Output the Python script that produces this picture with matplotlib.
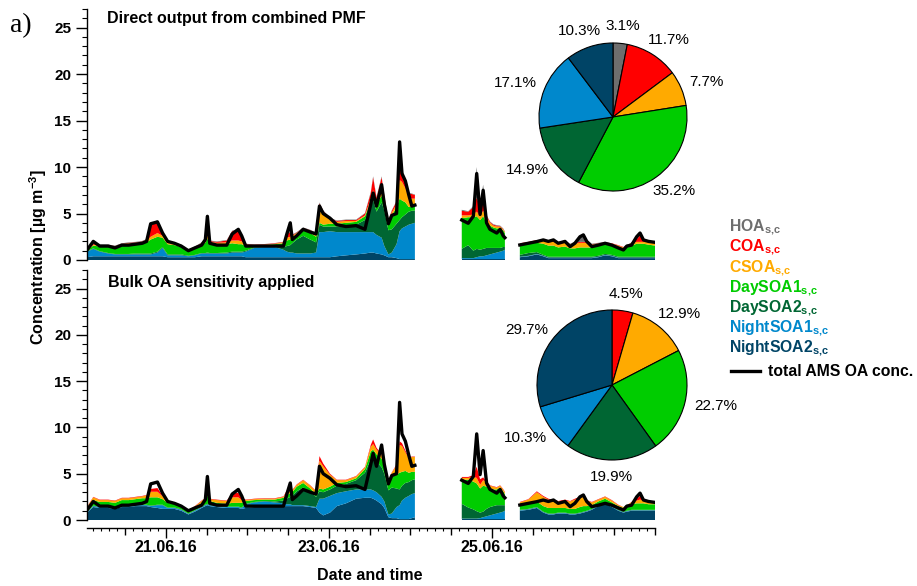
import matplotlib
matplotlib.use("Agg")
import matplotlib.pyplot as plt
import matplotlib.dates as mdates
from matplotlib.lines import Line2D
from matplotlib.ticker import MultipleLocator, FixedLocator, FuncFormatter
from datetime import datetime
import numpy as np

plt.rcParams['font.family'] = ['Liberation Sans', 'DejaVu Sans']
plt.rcParams['font.weight'] = 'bold'
plt.rcParams['mathtext.fontset'] = 'custom'
plt.rcParams['mathtext.rm'] = 'Liberation Sans:bold'
plt.rcParams['mathtext.it'] = 'Liberation Sans:bold'
plt.rcParams['mathtext.bf'] = 'Liberation Sans:bold'

# time axis: hours since 20.06.16 00:00 (three measurement periods)
hours = [0.8, 2.6, 4.5, 7, 9, 11, 13, 15, 17, 18.3,
         19.5, 21.5, 23, 24.5, 26.5, 28.5, 30.6, 32.5, 34.5, 35.6,
         36.2, 36.9, 39, 41.9, 43.5, 45.3, 46.3, 47.5, 50, 53,
         56, 58.6, 59.6, 60.6, 61.2, 62.5, 64.4, 66.5, 68.2, 69.2,
         70.3, 72.3, 74.3, 77, 80, 82.6, 84.3, 85, 86, 87.5,
         88.3, 89.5, 90.5, 91.9, 92.8, 93.5, 94.5, 95.5, 96.4, 97.3,
         111.1, 113.0, 114.5, 115.5, 116.5, 117.4, 118.4, 119.4, 120.4, 121.4,
         122.4, 123.3, 123.8,
         128.2, 130.7, 133.2, 135.1, 136.6, 138.1, 139.5, 141.5, 143.0, 144.4,
         145.9, 146.9, 147.9, 149.4, 151.3, 153.3, 155.3, 157.2, 158.7, 159.7,
         161.1, 162.6, 163.6, 164.6, 166.1, 168.0]

total_oa = [1.1, 2.0, 1.5, 1.5, 1.3, 1.6, 1.6, 1.7, 1.8, 2.0,
            3.9, 4.1, 2.9, 2.0, 1.8, 1.5, 1.0, 1.3, 1.6, 2.2,
            4.7, 1.8, 1.6, 1.6, 2.8, 3.3, 2.6, 1.5, 1.5, 1.5,
            1.5, 1.5, 2.8, 4.0, 2.2, 2.6, 3.3, 3.0, 2.8, 5.8,
            5.0, 4.5, 3.8, 3.6, 3.7, 3.3, 6.0, 7.2, 5.8, 8.1,
            6.0, 3.9, 4.8, 5.0, 12.7, 9.3, 8.5, 7.0, 5.8, 5.9,
            4.3, 3.95, 4.7, 9.3, 4.9, 7.5, 4.0, 3.3, 3.1, 2.9,
            3.3, 2.6, 2.4,
            1.62, 1.8, 1.98, 2.16, 2.0, 2.16, 1.8, 2.0, 1.44, 1.8,
            2.5, 2.7, 2.0, 1.44, 1.6, 1.8, 1.6, 1.3, 1.08, 1.5,
            1.6, 2.5, 2.9, 2.16, 2.0, 1.9]

factor_names = ['HOA', 'COA', 'CSOA', 'DaySOA1', 'DaySOA2', 'NightSOA1', 'NightSOA2']
factor_colors = ['#6e6e6e', '#ff0000', '#ffaa00', '#00cc00', '#006633', '#0088cc', '#004466']

# direct output from combined PMF
pmf_hoa = [0.02, 0.05, 0.05, 0.05, 0.05, 0.05, 0.05, 0.05, 0.05, 0.05,
           0.1, 0.1, 0.05, 0.05, 0.05, 0.05, 0.02, 0.05, 0.05, 0.05,
           0.2, 0.05, 0.05, 0.05, 0.05, 0.05, 0.05, 0.05, 0.02, 0.02,
           0.02, 0.02, 0.05, 0.1, 0.05, 0.05, 0.05, 0.05, 0.05, 0.1,
           0.05, 0.05, 0.05, 0.05, 0.05, 0.05, 0.1, 0.1, 0.1, 0.1,
           0.05, 0.05, 0.05, 0.05, 0.6, 0.5, 0.3, 0.1, 0.05, 0.05,
           0.1, 0.05, 0.1, 3.3, 0.3, 1.0, 0.05, 0.05, 0.05, 0.05,
           0.05, 0.05, 0.02,
           0, 0, 0, 0.05, 0.05, 0.1, 0.05, 0.05, 0.05, 0.1,
           0.6, 0.8, 0.2, 0.05, 0.05, 0.05, 0, 0, 0, 0,
           0.05, 0.1, 0.2, 0.05, 0, 0]
pmf_coa = [0.05, 0.1, 0.05, 0.05, 0.05, 0.05, 0.05, 0.05, 0.05, 0.1,
           1.2, 1.3, 0.4, 0.1, 0.05, 0.05, 0.05, 0.05, 0.05, 0.1,
           0.3, 0.1, 0.1, 0.2, 1.0, 1.2, 0.6, 0.1, 0.05, 0.05,
           0.05, 0.05, 0.4, 0.5, 0.1, 0.05, 0.05, 0.1, 0.1, 0.6,
           0.3, 0.1, 0.1, 0.1, 0.1, 0.2, 0.6, 1.4, 0.4, 1.5,
           0.5, 0.1, 0.2, 0.3, 1.5, 1.0, 0.4, 0.4, 0.5, 0.4,
           0.5, 0.4, 0.8, 1.5, 1.0, 1.8, 0.2, 0.1, 0.1, 0.1,
           0.05, 0.05, 0.05,
           0.05, 0.1, 0.1, 0.1, 0.1, 0.1, 0.1, 0.1, 0.05, 0.1,
           0.1, 0.1, 0.1, 0.05, 0.05, 0.05, 0.05, 0.05, 0.05, 0.05,
           0.1, 0.3, 0.7, 0.2, 0.1, 0.1]
pmf_csoa = [0.05, 0.1, 0.1, 0.1, 0.1, 0.15, 0.15, 0.15, 0.15, 0.2,
            0.3, 0.4, 0.2, 0.2, 0.15, 0.15, 0.1, 0.1, 0.15, 0.2,
            0.3, 0.2, 0.2, 0.2, 0.3, 0.4, 0.3, 0.1, 0.05, 0.05,
            0.05, 0.1, 0.3, 0.3, 0.2, 0.1, 0.1, 0.2, 0.3, 1.5,
            1.2, 0.5, 0.2, 0.2, 0.1, 0.1, 0.3, 0.4, 0.3, 0.5,
            0.3, 0.2, 0.3, 0.3, 2.0, 2.0, 1.5, 1.0, 0.9, 0.9,
            0.3, 0.2, 0.3, 0.5, 0.4, 0.6, 0.6, 0.3, 0.2, 0.2,
            0.2, 0.1, 0.1,
            0.1, 0.1, 0.2, 0.3, 0.4, 0.4, 0.4, 0.5, 0.4, 0.5,
            0.5, 0.5, 0.5, 0.3, 0.2, 0.2, 0.2, 0.2, 0.1, 0.1,
            0.2, 0.2, 0.2, 0.2, 0.3, 0.3]
pmf_day1 = [0.1, 0.3, 0.5, 0.7, 0.7, 0.9, 1.0, 1.0, 1.1, 1.2,
            1.5, 1.6, 1.0, 1.1, 1.0, 0.8, 0.5, 0.7, 0.9, 1.1,
            1.5, 1.0, 0.9, 0.9, 0.9, 0.8, 0.8, 0.5, 0.2, 0.15,
            0.2, 0.4, 0.6, 0.6, 0.6, 0.6, 0.7, 0.7, 0.6, 0.2,
            0.2, 0.3, 0.3, 0.3, 0.3, 0.4, 0.5, 0.6, 0.8, 0.7,
            0.8, 0.8, 1.5, 1.8, 2.3, 1.8, 1.3, 0.5, 0.4, 0.4,
            3.3, 3.0, 3.6, 3.5, 3.2, 3.5, 2.7, 2.4, 2.2, 2.1,
            2.1, 1.8, 1.5,
            1.1, 1.0, 1.0, 1.2, 1.2, 1.2, 1.0, 1.1, 0.9, 0.9,
            1.0, 1.0, 1.0, 1.0, 1.1, 1.0, 1.0, 1.0, 0.9, 1.1,
            1.2, 1.4, 1.4, 1.4, 1.3, 1.2]
pmf_day2 = [0.05, 0.05, 0.05, 0.05, 0.05, 0.05, 0.05, 0.1, 0.1, 0.1,
            0.1, 0.1, 0.1, 0.1, 0.1, 0.1, 0.05, 0.05, 0.05, 0.05,
            0.1, 0.05, 0.05, 0.1, 0.1, 0.1, 0.1, 0.1, 0.05, 0.05,
            0.1, 0.3, 0.6, 0.8, 1.0, 1.5, 1.9, 1.5, 1.1, 0.8,
            0.6, 0.5, 0.6, 0.7, 0.8, 1.3, 2.8, 3.5, 2.5, 3.8,
            3.8, 2.6, 2.5, 2.2, 1.2, 1.2, 1.3, 1.4, 1.4, 1.3,
            1.0, 1.4, 0.8, 0.9, 0.7, 0.8, 0.8, 0.7, 0.6, 0.5,
            0.4, 0.4, 0.3,
            0.2, 0.3, 0.2, 0.1, 0.1, 0.1, 0.1, 0.1, 0.1, 0.1,
            0.1, 0.1, 0.1, 0.1, 0.1, 0.1, 0.1, 0.1, 0.1, 0.1,
            0.1, 0.1, 0.1, 0.1, 0.1, 0.1]
pmf_night1 = [0.6, 0.8, 0.5, 0.3, 0.2, 0.2, 0.2, 0.2, 0.2, 0.2,
              0.2, 0.4, 0.9, 0.2, 0.2, 0.2, 0.1, 0.2, 0.3, 0.3,
              0.3, 0.3, 0.3, 0.3, 0.4, 0.4, 0.4, 0.6, 1.0, 1.1,
              1.1, 0.8, 0.6, 0.5, 0.5, 0.4, 0.4, 0.4, 0.5, 2.7,
              2.7, 2.8, 2.6, 2.5, 2.4, 2.3, 2.2, 2.2, 2.0, 1.8,
              1.0, 0.3, 0.5, 1.5, 3.0, 3.3, 3.5, 3.7, 3.8, 3.9,
              0.1, 0.1, 0.1, 0.2, 0.3, 0.3, 0.4, 0.5, 0.6, 0.7,
              0.8, 0.9, 1.0,
              0.05, 0.05, 0.05, 0.05, 0.05, 0.05, 0.05, 0.05, 0.05, 0.05,
              0.05, 0.05, 0.05, 0.05, 0.05, 0.05, 0.05, 0.05, 0.05, 0.05,
              0.05, 0.05, 0.05, 0.05, 0.05, 0.05]
pmf_night2 = [0.3, 0.4, 0.4, 0.4, 0.4, 0.4, 0.4, 0.4, 0.4, 0.4,
              0.4, 0.4, 0.4, 0.3, 0.3, 0.3, 0.3, 0.3, 0.4, 0.4,
              0.4, 0.4, 0.4, 0.4, 0.4, 0.4, 0.4, 0.3, 0.3, 0.3,
              0.3, 0.3, 0.3, 0.3, 0.3, 0.3, 0.3, 0.3, 0.3, 0.3,
              0.3, 0.3, 0.4, 0.5, 0.6, 0.7, 0.8, 0.8, 0.7, 0.6,
              0.5, 0.3, 0.3, 0.2, 0.1, 0.1, 0.1, 0.1, 0.1, 0.1,
              0.1, 0.1, 0.1, 0.1, 0.1, 0.1, 0.1, 0.1, 0.1, 0.1,
              0.1, 0.1, 0.1,
              0.3, 0.4, 0.6, 0.4, 0.2, 0.2, 0.2, 0.2, 0.2, 0.2,
              0.2, 0.2, 0.2, 0.2, 0.3, 0.5, 0.4, 0.2, 0.2, 0.2,
              0.2, 0.2, 0.2, 0.2, 0.2, 0.2]

# bulk OA sensitivity applied (HOA drops out)
bulk_coa = [0.05, 0.05, 0.05, 0.05, 0.05, 0.05, 0.05, 0.05, 0.05, 0.05,
            0.3, 0.4, 0.1, 0.05, 0.05, 0.05, 0.02, 0.05, 0.05, 0.05,
            0.1, 0.05, 0.05, 0.05, 0.4, 0.5, 0.2, 0.05, 0.05, 0.05,
            0.05, 0.05, 0.2, 0.2, 0.05, 0.05, 0.05, 0.05, 0.05, 0.5,
            0.3, 0.1, 0.05, 0.05, 0.05, 0.05, 0.2, 0.5, 0.2, 0.1,
            0.05, 0.05, 0.05, 0.1, 0.4, 0.3, 0.2, 0.05, 0.05, 0.05,
            0.1, 0.1, 0.2, 1.2, 0.6, 0.3, 0.05, 0.05, 0.05, 0.05,
            0.05, 0.05, 0.05,
            0.05, 0.05, 0.1, 0.1, 0.1, 0.1, 0.05, 0.1, 0.05, 0.1,
            0.1, 0.1, 0.05, 0.05, 0.05, 0.05, 0.05, 0.05, 0.0, 0.0,
            0.05, 0.2, 0.4, 0.1, 0.05, 0.05]
bulk_csoa = [0.2, 0.3, 0.2, 0.2, 0.2, 0.2, 0.2, 0.2, 0.2, 0.3,
             0.6, 0.6, 0.3, 0.2, 0.1, 0.1, 0.05, 0.1, 0.2, 0.2,
             0.4, 0.2, 0.3, 0.3, 0.6, 0.6, 0.3, 0.1, 0.1, 0.1,
             0.1, 0.1, 0.3, 0.4, 0.2, 0.2, 0.3, 0.3, 0.3, 3.0,
             2.5, 1.3, 0.3, 0.2, 0.2, 0.2, 0.5, 0.6, 0.5, 0.4,
             0.3, 0.2, 0.4, 1.0, 3.0, 2.8, 2.0, 1.6, 1.6, 1.6,
             0.2, 0.2, 0.5, 0.6, 0.4, 0.6, 0.5, 0.3, 0.3, 0.2,
             0.2, 0.2, 0.2,
             0.3, 0.4, 1.0, 1.0, 0.9, 0.8, 0.7, 0.8, 0.8, 1.0,
             1.0, 1.0, 0.6, 0.3, 0.2, 0.2, 0.2, 0.1, 0.1, 0.1,
             0.2, 0.3, 0.4, 0.3, 0.3, 0.3]
bulk_day1 = [0.3, 0.6, 0.5, 0.5, 0.5, 0.6, 0.6, 0.6, 0.7, 0.7,
             0.9, 0.8, 0.6, 0.5, 0.4, 0.3, 0.3, 0.3, 0.4, 0.5,
             0.9, 0.4, 0.3, 0.3, 0.4, 0.4, 0.5, 0.3, 0.2, 0.15,
             0.2, 0.3, 0.4, 0.4, 0.4, 0.5, 0.5, 0.4, 0.3, 0.3,
             0.3, 0.3, 0.3, 0.2, 0.2, 0.4, 0.8, 0.8, 0.8, 0.9,
             1.0, 0.9, 1.2, 1.5, 1.8, 1.5, 1.3, 1.0, 0.9, 0.8,
             2.6, 3.0, 3.0, 3.0, 2.6, 2.8, 2.4, 2.0, 1.8, 1.7,
             1.9, 1.5, 1.2,
             0.5, 0.6, 0.6, 0.6, 0.6, 0.6, 0.5, 0.5, 0.5, 0.5,
             0.6, 0.6, 0.5, 0.4, 0.4, 0.4, 0.4, 0.4, 0.4, 0.5,
             0.6, 0.7, 0.7, 0.7, 0.6, 0.6]
bulk_day2 = [0.05, 0.05, 0.05, 0.05, 0.05, 0.05, 0.05, 0.05, 0.05, 0.05,
             0.05, 0.05, 0.05, 0.05, 0.05, 0.05, 0.05, 0.05, 0.05, 0.05,
             0.05, 0.05, 0.05, 0.05, 0.05, 0.05, 0.05, 0.05, 0.05, 0.05,
             0.1, 0.3, 0.6, 0.8, 1.0, 1.5, 1.9, 1.5, 1.1, 0.8,
             0.7, 0.7, 0.8, 0.8, 1.0, 1.8, 3.3, 3.6, 3.3, 3.2,
             3.0, 2.6, 2.8, 2.0, 1.7, 1.6, 1.6, 1.5, 1.5, 1.5,
             1.6, 1.2, 1.0, 0.8, 0.6, 0.6, 0.8, 0.9, 0.9, 0.9,
             0.8, 0.7, 0.6,
             0.05, 0.05, 0.05, 0.05, 0.05, 0.05, 0.05, 0.05, 0.05, 0.05,
             0.05, 0.05, 0.05, 0.05, 0.05, 0.05, 0.05, 0.05, 0.05, 0.05,
             0.05, 0.05, 0.05, 0.05, 0.05, 0.05]
bulk_night1 = [0.05, 0.1, 0.1, 0.1, 0.1, 0.1, 0.1, 0.1, 0.1, 0.1,
               0.1, 0.3, 0.4, 0.1, 0.1, 0.1, 0.05, 0.1, 0.1, 0.1,
               0.1, 0.1, 0.1, 0.1, 0.1, 0.1, 0.1, 0.4, 0.5, 0.6,
               0.5, 0.3, 0.2, 0.2, 0.1, 0.1, 0.1, 0.1, 0.1, 1.5,
               1.8, 1.8, 1.4, 1.3, 1.0, 0.9, 0.9, 0.9, 0.9, 0.8,
               0.7, 0.3, 0.5, 1.2, 1.5, 2.0, 2.3, 2.5, 2.6, 2.6,
               0.05, 0.05, 0.05, 0.05, 0.1, 0.2, 0.3, 0.4, 0.5, 0.6,
               0.7, 0.8, 0.9,
               0.05, 0.05, 0.05, 0.05, 0.05, 0.05, 0.05, 0.05, 0.05, 0.05,
               0.05, 0.05, 0.05, 0.05, 0.05, 0.05, 0.05, 0.05, 0.05, 0.05,
               0.05, 0.05, 0.05, 0.05, 0.05, 0.05]
bulk_night2 = [0.8, 1.4, 1.3, 1.3, 1.2, 1.4, 1.4, 1.5, 1.5, 1.5,
               1.4, 1.3, 1.2, 1.2, 1.2, 1.0, 0.6, 0.9, 1.3, 1.5,
               1.6, 1.5, 1.4, 1.3, 1.3, 1.3, 1.2, 1.3, 1.4, 1.4,
               1.4, 1.5, 1.5, 1.5, 1.5, 1.5, 1.5, 1.4, 1.3, 0.8,
               0.5, 0.8, 1.5, 1.8, 2.3, 2.4, 2.4, 2.3, 2.1, 1.7,
               1.3, 0.3, 0.2, 0.2, 0.1, 0.1, 0.1, 0.1, 0.2, 0.3,
               0.1, 0.1, 0.1, 0.1, 0.1, 0.1, 0.1, 0.1, 0.1, 0.1,
               0.1, 0.1, 0.1,
               1.0, 1.1, 1.3, 0.8, 0.6, 0.6, 0.7, 0.7, 0.6, 0.6,
               0.7, 0.8, 0.9, 1.1, 1.5, 1.8, 1.4, 1.0, 0.8, 0.9,
               1.0, 1.0, 1.0, 1.0, 1.0, 1.0]

# campaign-average contributions (%)
pie_pmf = [3.1, 11.7, 7.7, 35.2, 14.9, 17.1, 10.3]
pie_bulk = [4.5, 12.9, 22.7, 19.9, 10.3, 29.7]

date_labels = ['21.06.16', '23.06.16', '25.06.16']

W, H = 917, 586


def fx(px):
    return px / W


def fy(py):
    return 1 - py / H


t0 = mdates.date2num(datetime(2016, 6, 20))
x = t0 + np.array(hours) / 24.0
total = np.array(total_oa)
# split into measurement periods wherever the gap exceeds a few hours
segments = np.split(np.arange(len(x)), np.where(np.diff(hours) > 4)[0] + 1)

fig = plt.figure(figsize=(W / 100, H / 100), dpi=100)
ax_top = fig.add_axes([fx(87), fy(260), fx(655) - fx(87), (260 - 9) / H])
ax_bot = fig.add_axes([fx(87), fy(520), fx(655) - fx(87), (520 - 270) / H])


def draw_stack(ax, layers, colors):
    for seg in segments:
        ax.stackplot(x[seg], *[np.asarray(l)[seg] for l in layers],
                     colors=colors, linewidth=0)
        ax.plot(x[seg], total[seg], color='black', lw=2.4,
                solid_joinstyle='round')


# stacked bottom-up: NightSOA2 ... HOA
draw_stack(ax_top,
           [pmf_night2, pmf_night1, pmf_day2, pmf_day1, pmf_csoa, pmf_coa, pmf_hoa],
           factor_colors[::-1])
draw_stack(ax_bot,
           [bulk_night2, bulk_night1, bulk_day2, bulk_day1, bulk_csoa, bulk_coa],
           factor_colors[1:][::-1])

for ax in (ax_top, ax_bot):
    ax.set_xlim(t0 + 0.75 / 24, t0 + 7)
    ax.set_ylim(0, 27)
    ax.yaxis.set_major_locator(MultipleLocator(5))
    ax.yaxis.set_minor_locator(MultipleLocator(1))
    ax.tick_params(axis='y', which='major', length=8, width=1.0, labelsize=11)
    ax.tick_params(axis='y', which='minor', length=3.6, width=0.8)
    for s in ('top', 'right'):
        ax.spines[s].set_visible(False)
    ax.spines['left'].set_linewidth(1.0)

ax_top.spines['bottom'].set_visible(False)
ax_top.tick_params(axis='x', which='both', bottom=False, labelbottom=False)


def date_fmt(v, pos=None):
    s = mdates.num2date(v).strftime('%d.%m.%y')
    return s if s in date_labels and abs(v - round(v)) < 1e-6 else ''


ax_bot.spines['bottom'].set_position(('outward', 6))
ax_bot.spines['bottom'].set_linewidth(1.0)
ax_bot.xaxis.set_major_locator(FixedLocator(t0 + np.arange(0.5, 7.01, 0.5)))
ax_bot.xaxis.set_major_formatter(FuncFormatter(date_fmt))
ax_bot.xaxis.set_minor_locator(MultipleLocator(0.1))
ax_bot.tick_params(axis='x', which='major', width=1.0, labelsize=11.5, pad=5)
ax_bot.tick_params(axis='x', which='minor', length=2.4, width=0.8)
for tick, loc in zip(ax_bot.xaxis.get_major_ticks(), ax_bot.xaxis.get_majorticklocs()):
    tick.tick1line.set_markersize(7.2 if date_fmt(loc) else 4.8)

# panel titles and axis labels
fig.text(fx(107), fy(18.5), 'Direct output from combined PMF', fontsize=11.5, va='center')
fig.text(fx(108), fy(282), 'Bulk OA sensitivity applied', fontsize=11.5, va='center')
fig.text(fx(10), fy(32), 'a)', family='Liberation Serif', fontweight='normal', fontsize=20)
fig.text(fx(38), fy(257), r'Concentration [µg m$^{-3}$]', rotation=90,
         ha='center', va='center', fontsize=11.5)
fig.text(fx(370), fy(575), 'Date and time', ha='center', va='center', fontsize=11.5)

renderer = fig.canvas.get_renderer()


def draw_pie(cx, cy, r, values, colors, gap=10):
    half = 1.5 * r
    pax = fig.add_axes([fx(cx - half), fy(cy + half), 2 * half / W, 2 * half / H])
    wedges, _ = pax.pie(values, colors=colors, startangle=90, counterclock=False,
                        wedgeprops=dict(edgecolor='black', linewidth=0.8))
    pax.set_xlim(-1.5, 1.5)
    pax.set_ylim(-1.5, 1.5)
    # percentage labels pushed just outside the rim, box edge facing the wedge
    for w, v in zip(wedges, values):
        ang = np.deg2rad((w.theta1 + w.theta2) / 2)
        c, s = np.cos(ang), np.sin(ang)
        t = pax.text(0, 0, f'{v:.1f}%', fontsize=11, fontweight='normal',
                     ha='center', va='center')
        bb = t.get_window_extent(renderer)
        dx = (r + gap) * c + bb.width / 2 * c
        dy = (r + gap) * s + bb.height / 2 * s
        t.set_position((dx / r, dy / r))


draw_pie(613, 117, 74, pie_pmf, factor_colors)
draw_pie(612, 385, 75, pie_bulk, factor_colors[1:])

# legend: coloured factor names, then the total line
for i, (name, col) in enumerate(zip(factor_names, factor_colors)):
    fig.text(fx(729), fy(231 + 20.2 * i), name + r'$_{\mathbf{s{,}c}}$',
             color=col, fontsize=11.3, va='baseline')
fig.add_artist(Line2D([fx(731), fx(760)], [fy(371), fy(371)], color='black', lw=2.4))
fig.text(fx(768), fy(376), 'total AMS OA conc.', fontsize=11.3, va='baseline')

fig.savefig('out.png', dpi=100)
